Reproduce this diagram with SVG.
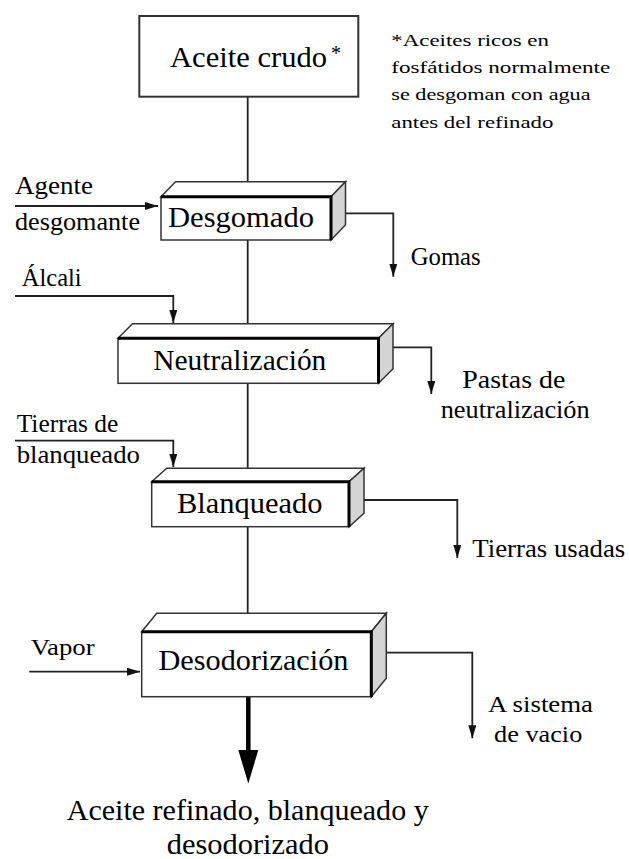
<svg xmlns="http://www.w3.org/2000/svg" width="629" height="859" viewBox="0 0 629 859">
<defs>
<style>
text{font-family:'Liberation Serif','Tinos','Times New Roman','Times','Nimbus Roman','DejaVu Serif','Noto Serif',serif;fill:#000}
.main{font-size:30px}
.lbl{font-size:26px}
.note{font-size:17.5px}
.face{fill:#fff;stroke:#333;stroke-width:1.5;stroke-linejoin:miter}
.side{fill:#d4d4d4;stroke:#333;stroke-width:1.5}
.edge{fill:none;stroke:#000;stroke-width:3;stroke-linejoin:miter}
.ln{fill:none;stroke:#222;stroke-width:1.8}
</style>
<marker id="ah" markerUnits="userSpaceOnUse" markerWidth="13" markerHeight="8" refX="13" refY="4" orient="auto">
<path d="M0,0 L13,4 L0,8 z" fill="#111"/>
</marker>
</defs>
<rect width="629" height="859" fill="#fff"/>

<g id="connectors">
<path class="ln" d="M247.7,97 V182"/>
<path class="ln" d="M247.7,240 V324"/>
<path class="ln" d="M247.7,383.3 V468.3"/>
<path class="ln" d="M247.7,526.7 V613.3"/>
<path class="ln" d="M15,206 H158" marker-end="url(#ah)"/>
<path class="ln" d="M15,296 H173.3 V323" marker-end="url(#ah)"/>
<path class="ln" d="M15,440.7 H173.3 V467" marker-end="url(#ah)"/>
<path class="ln" d="M29.3,671.7 H140" marker-end="url(#ah)"/>
<path class="ln" d="M346,213.3 H393.3 V276.7" marker-end="url(#ah)"/>
<path class="ln" d="M392.5,347.3 H431.3 V394" marker-end="url(#ah)"/>
<path class="ln" d="M364,500 H457.3 V558" marker-end="url(#ah)"/>
<path class="ln" d="M386.3,652.7 H472.3 V738.3" marker-end="url(#ah)"/>
<path d="M248.3,697 V752" fill="none" stroke="#000" stroke-width="4.5"/>
<path d="M238.3,750 L258.3,750 L248.3,783.5 z" fill="#000"/>
</g>

<g id="aceite-crudo">
<rect x="139.3" y="16" width="219" height="80.7" fill="#fff" stroke="#333" stroke-width="2"/>
<text class="main" x="170" y="67" textLength="157" lengthAdjust="spacingAndGlyphs">Aceite crudo</text>
<text x="331" y="59.5" font-size="20">*</text>
</g>

<g id="nota">
<text class="note" x="391.3" y="46" textLength="157.7" lengthAdjust="spacingAndGlyphs">*Aceites ricos en</text>
<text class="note" x="391.3" y="72.7" textLength="219" lengthAdjust="spacingAndGlyphs">fosfátidos normalmente</text>
<text class="note" x="391.3" y="100" textLength="199.3" lengthAdjust="spacingAndGlyphs">se desgoman con agua</text>
<text class="note" x="391.3" y="127.7" textLength="162" lengthAdjust="spacingAndGlyphs">antes del refinado</text>
</g>

<g id="desgomado">
<polygon class="face" points="161,196.7 175.5,181.7 345.5,181.7 331,196.7"/>
<polygon class="side" points="331,196.7 345.5,181.7 345.5,225 331,240"/>
<rect class="face" x="161" y="196.7" width="170" height="43.3"/>
<polyline class="edge" points="161,196.7 331,196.7 331,240"/>
<text class="main" x="168" y="227" textLength="146" lengthAdjust="spacingAndGlyphs">Desgomado</text>
</g>

<g id="neutralizacion">
<polygon class="face" points="118,338.3 132.5,323.8 393,323.8 378.5,338.3"/>
<polygon class="side" points="378.5,338.3 393,323.8 393,368.8 378.5,383.3"/>
<rect class="face" x="118" y="338.3" width="260.5" height="45"/>
<polyline class="edge" points="118,338.3 378.5,338.3 378.5,383.3"/>
<text class="main" x="153.3" y="370" textLength="173" lengthAdjust="spacingAndGlyphs">Neutralización</text>
</g>

<g id="blanqueado">
<polygon class="face" points="151.7,481.7 166.7,468.2 364,468.2 349,481.7"/>
<polygon class="side" points="349,481.7 364,468.2 364,513.2 349,526.7"/>
<rect class="face" x="151.7" y="481.7" width="197.3" height="45"/>
<polyline class="edge" points="151.7,481.7 349,481.7 349,526.7"/>
<text class="main" x="177" y="513" textLength="145.6" lengthAdjust="spacingAndGlyphs">Blanqueado</text>
</g>

<g id="desodorizacion">
<polygon class="face" points="141.7,631.7 156.7,613.2 386.3,613.2 371.3,631.7"/>
<polygon class="side" points="371.3,631.7 386.3,613.2 386.3,678.2 371.3,696.7"/>
<rect class="face" x="141.7" y="631.7" width="229.6" height="65"/>
<polyline class="edge" points="141.7,631.7 371.3,631.7 371.3,696.7"/>
<text class="main" x="158.5" y="670" textLength="190" lengthAdjust="spacingAndGlyphs">Desodorización</text>
</g>

<g id="entradas">
<text class="lbl" x="15" y="194.3" textLength="78" lengthAdjust="spacingAndGlyphs">Agente</text>
<text class="lbl" x="15" y="230" textLength="125" lengthAdjust="spacingAndGlyphs">desgomante</text>
<text class="lbl" x="21.7" y="286" textLength="60" lengthAdjust="spacingAndGlyphs">Álcali</text>
<text class="lbl" x="16.7" y="431.7" textLength="101.6" lengthAdjust="spacingAndGlyphs">Tierras de</text>
<text class="lbl" x="16.7" y="463.3" textLength="123.3" lengthAdjust="spacingAndGlyphs">blanqueado</text>
<text x="30.7" y="655" font-size="24" textLength="64" lengthAdjust="spacingAndGlyphs">Vapor</text>
</g>

<g id="salidas">
<text class="lbl" x="410.7" y="265" textLength="70" lengthAdjust="spacingAndGlyphs">Gomas</text>
<text class="lbl" x="462.3" y="388.3" textLength="103" lengthAdjust="spacingAndGlyphs">Pastas de</text>
<text class="lbl" x="440.7" y="418.3" textLength="149" lengthAdjust="spacingAndGlyphs">neutralización</text>
<text class="lbl" x="472.3" y="556.7" textLength="153" lengthAdjust="spacingAndGlyphs">Tierras usadas</text>
<text x="488" y="711.7" font-size="23" textLength="105" lengthAdjust="spacingAndGlyphs">A sistema</text>
<text x="494" y="741.7" font-size="23" textLength="88.3" lengthAdjust="spacingAndGlyphs">de vacio</text>
</g>

<g id="producto-final">
<text class="main" x="66.7" y="819.5" textLength="362" lengthAdjust="spacingAndGlyphs">Aceite refinado, blanqueado y</text>
<text class="main" x="166.7" y="854" textLength="162.3" lengthAdjust="spacingAndGlyphs">desodorizado</text>
</g>
</svg>
